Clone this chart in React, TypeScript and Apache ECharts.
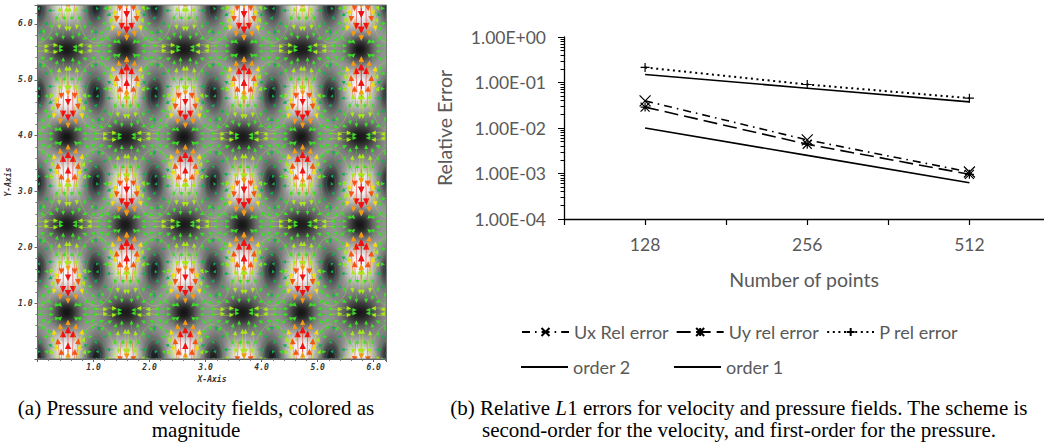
import React, { useEffect, useRef } from "react";
import * as echarts from "echarts";

// ---------- right panel data ----------
const sizes = [128, 256, 512];
const uxError = [0.0395, 0.00547, 0.00108];
const uyError = [0.0288, 0.0044, 0.00096];
const pError = [0.214, 0.0904, 0.0453];
const order2 = [0.01, 0.0025, 0.000625];
const order1 = [0.15, 0.075, 0.0375];
const minorLogTicks = [
  2e-4, 3e-4, 4e-4, 5e-4, 6e-4, 7e-4, 8e-4, 9e-4, 2e-3, 3e-3, 4e-3, 5e-3, 6e-3, 7e-3, 8e-3, 9e-3,
  2e-2, 3e-2, 4e-2, 5e-2, 6e-2, 7e-2, 8e-2, 9e-2, 0.2, 0.3, 0.4, 0.5, 0.6, 0.7, 0.8, 0.9,
];

// ---------- left panel data: one quadrant of the periodic pressure image (grey level) ----------
const pressureQuadrant = [
  [20, 60, 115, 140, 145, 140, 120, 85, 45, 25],
  [60, 85, 125, 145, 150, 140, 125, 100, 70, 55],
  [120, 130, 145, 150, 145, 135, 130, 120, 110, 100],
  [170, 170, 160, 150, 130, 120, 130, 135, 130, 130],
  [215, 205, 175, 140, 110, 100, 125, 145, 155, 160],
  [245, 228, 185, 130, 85, 70, 115, 155, 185, 200],
  [252, 235, 180, 115, 45, 35, 105, 170, 215, 235],
  [242, 222, 170, 105, 25, 25, 105, 170, 222, 242],
  [235, 215, 170, 105, 35, 45, 115, 180, 235, 252],
  [200, 185, 155, 115, 70, 85, 130, 185, 228, 245],
  [160, 155, 145, 125, 100, 110, 140, 175, 205, 215],
  [130, 130, 135, 130, 120, 130, 150, 160, 170, 170],
  [100, 110, 120, 130, 135, 145, 150, 145, 130, 120],
  [55, 70, 100, 125, 140, 150, 145, 125, 85, 60],
  [25, 45, 85, 120, 140, 145, 140, 115, 60, 20],
];

// one fundamental set of velocity arrows (offset from a dark node; v > 0 is up)
const arrowOffsetX = [0, 0, 0.09, 0.14, 0.25, 0, 0.18, 0.12, 0.21, 0, 0.28, 0.3, 1.02, 0.9, 0.98, 0.84, 1.02, 0.89, 0.75, 0.96, 0.5, 0.66, 0.82, 0.92, 0.45, 0.6, 0.75, 0.3, 0.2, 0.33, 0.4, 0.32, 0.38, 0.34, 0.5, 0.55, 0.53, 0.65, 0.72, 0.45, 0.62, 0.85, 0.14];
const arrowOffsetY = [0.2, 0.34, 0.41, 0.27, 0.37, 0.62, 0.54, 0.73, 0.64, 0.78, 0.5, 0.72, 0.7, 0.7, 0.54, 0.54, 0.36, 0.39, 0.39, 0.2, 0.05, 0.04, 0.06, 0.03, 0.16, 0.17, 0.18, 0.05, 0.12, 0.18, 0.45, 0.6, 0.72, 0.35, 0.55, 0.3, 0.72, 0.45, 0.68, 0.28, 0.3, 0.25, 0.12];
const arrowU = [0, 0, 0.01, 0.03, 0.05, 0, 0.03, 0.02, 0.05, 0, 0.07, 0.08, 0, -0.02, 0, -0.06, 0, 0.02, 0.02, 0, 0.14, 0.17, 0.17, 0.14, 0.13, 0.14, 0.13, -0.12, -0.14, -0.08, 0.1, 0.08, 0.1, 0.05, 0.03, 0, 0.01, -0.05, -0.09, 0.07, 0.05, 0.03, -0.1];
const arrowV = [0.26, 0.38, 0.38, 0.26, 0.22, 0.36, 0.31, 0.3, 0.24, 0.26, 0.17, 0.14, -0.2, -0.18, 0.1, 0.1, 0.17, 0.17, 0.1, 0.12, 0, 0.01, 0.01, 0, 0.04, 0.05, 0.06, 0, 0.03, 0.06, -0.01, 0.05, 0, 0.1, -0.04, -0.08, -0.02, -0.02, 0, 0.08, 0.09, 0.12, 0.1];

const ovalColumns = [0, 1.05, 2.09, 3.14, 4.19, 5.24, 6.28];
const ovalRows = [0, 1.57, 3.14, 4.71, 6.28];
const ringRx = [0.33, 0.18, 0.08];
const ringRy = [0.62, 0.36, 0.2];
const ringColors = ["#a6e24a", "#45b85a", "#2f7f98"];

const arrowStops: [number, string][] = [
  [0.34, "#f01212"],
  [0.29, "#f4560f"],
  [0.25, "#f59a10"],
  [0.21, "#f2dc10"],
  [0.16, "#a8e81a"],
  [0.1, "#3ddc28"],
  [0, "#12b050"],
];

const NODE_X = 0.545;
const NODE_Y = 3.99;
const PERIOD_X = 2.094;
const PERIOD_Y = 3.142;

function heatCells() {
  const cells: number[][] = [];
  for (let i = -4; i < 64; i++) {
    for (let j = -4; j < 64; j++) {
      let di = (((i + 0.5 - 5) % 20) + 20) % 20;
      if (di > 10) di = 20 - di;
      let dj = (((j + 0.5 - 38) % 30) + 30) % 30;
      if (dj > 15) dj = 30 - dj;
      cells.push([i + 4, j + 4, pressureQuadrant[Math.floor(dj)][Math.floor(di)]]);
    }
  }
  return cells;
}

function arrowItems() {
  const out: number[][] = [];
  arrowOffsetX.forEach((ox0, n) => {
    const oy0 = arrowOffsetY[n];
    const u0 = arrowU[n];
    const v0 = arrowV[n];
    const variants = [
      [ox0, oy0, u0, v0],
      [1.047 - ox0, 1.571 - oy0, -u0, -v0],
    ];
    variants.forEach(([ox, oy, u, v]) => {
      [1, -1].forEach((sx) => {
        if (sx < 0 && ox === 0) return;
        [1, -1].forEach((sy) => {
          for (let k = -1; k < 4; k++) {
            for (let m = -2; m < 3; m++) {
              const x = NODE_X + k * PERIOD_X + sx * ox;
              const y = NODE_Y + m * PERIOD_Y - sy * oy;
              if (x > -0.1 && x < 6.35 && y > -0.1 && y < 6.45) out.push([x, y, sx * u, sy * v]);
            }
          }
        });
      });
    });
  });
  return out;
}

function ringItems() {
  const out: number[][] = [];
  ovalColumns.forEach((x) => ovalRows.forEach((y) => ringRx.forEach((_, r) => out.push([x, y, r]))));
  return out;
}

const renderArrow = (_: any, api: any) => {
  const x = api.value(0);
  const y = api.value(1);
  const u = api.value(2);
  const v = api.value(3);
  const speed = Math.hypot(u, v);
  const color = (arrowStops.find((s) => speed >= s[0]) as [number, string])[1];
  const p = api.coord([x, y]);
  const q = api.coord([x - u, y - v]);
  const len = Math.hypot(p[0] - q[0], p[1] - q[1]) || 1;
  const dx = (p[0] - q[0]) / len;
  const dy = (p[1] - q[1]) / len;
  const h = 3 + 10 * speed;
  const w = h * 0.95;
  return {
    type: "group",
    children: [
      {
        type: "line",
        shape: { x1: q[0], y1: q[1], x2: p[0], y2: p[1] },
        style: { stroke: color, lineWidth: 1, opacity: 0.5 },
      },
      {
        type: "polygon",
        shape: {
          points: [
            [p[0] + dx * h * 0.6, p[1] + dy * h * 0.6],
            [p[0] - dx * h * 0.4 - dy * w * 0.5, p[1] - dy * h * 0.4 + dx * w * 0.5],
            [p[0] - dx * h * 0.4 + dy * w * 0.5, p[1] - dy * h * 0.4 - dx * w * 0.5],
          ],
        },
        style: { fill: color },
      },
    ],
  };
};

const renderRing = (_: any, api: any) => {
  const r = api.value(2);
  const c = api.coord([api.value(0), api.value(1)]);
  const s = api.size([ringRx[r], ringRy[r]]);
  return {
    type: "ellipse",
    shape: { cx: c[0], cy: c[1], rx: s[0], ry: s[1] },
    style: { fill: "none", stroke: ringColors[r], lineWidth: 0.8, opacity: 0.5 },
  };
};

const CROSS = "path://M0 0L10 10M10 0L0 10";
const STAR = "path://M0 0L10 10M10 0L0 10M5 0L5 10M0 5L10 5";
const PLUS = "path://M5 0L5 10M0 5L10 5";
const LABEL = "#595959";
const FONT = "Lato";
const xs = sizes.map((n) => Math.log2(n));
const toLine = (ys: number[]) => ys.map((y, i) => [xs[i], y]);

const lineSeries = (name: string, ys: number[], dash: any, width: number, symbol: string, size: number) => ({
  type: "line",
  name,
  xAxisIndex: 1,
  yAxisIndex: 1,
  data: toLine(ys),
  silent: true,
  symbol,
  symbolSize: size,
  itemStyle: { color: "none", borderColor: "#000", borderWidth: 1.2 },
  lineStyle: { color: "#000", width, type: dash },
});

const hershey = {
  fontFamily: "DejaVu Sans Mono",
  fontStyle: "italic",
  fontWeight: "bold",
  fontSize: 8,
  color: "#333",
};

const legendText = { fontFamily: FONT, fontSize: 18, color: LABEL };
const CAPTION_FONT = "Liberation Serif";
const solidLegend = (name: string, left: number) => ({
  left,
  top: 353,
  itemWidth: 47,
  itemHeight: 2,
  selectedMode: false,
  textStyle: legendText,
  itemStyle: { color: "#000", borderWidth: 0 },
  lineStyle: { width: 0, opacity: 0 },
  data: [{ name, icon: "rect" }],
});

export default function App() {
  const heatRef = useRef<HTMLDivElement>(null);
  const arrowRef = useRef<HTMLDivElement>(null);
  const mainRef = useRef<HTMLDivElement>(null);

  useEffect(() => {
    const heat = echarts.init(heatRef.current!, undefined, { renderer: "svg" });
    const arrows = echarts.init(arrowRef.current!, undefined, { renderer: "svg" });
    const main = echarts.init(mainRef.current!, undefined, { renderer: "svg" });

    const cats = Array.from({ length: 68 }, (_, i) => String(i));
    heat.setOption({
      animation: false,
      grid: { left: 14.04, top: 15, width: 398.8, height: 397.3 },
      xAxis: { type: "category", data: cats, show: false },
      yAxis: { type: "category", data: cats, show: false },
      visualMap: { show: false, min: 0, max: 255, dimension: 2, inRange: { color: ["#000000", "#ffffff"] } },
      series: [{ type: "heatmap", data: heatCells(), silent: true, progressive: 0, itemStyle: { borderWidth: 0 } }],
    });

    arrows.setOption({
      animation: false,
      grid: { left: 37.5, top: 5, width: 349, height: 354 },
      xAxis: { type: "value", min: 0, max: 6.23, show: false },
      yAxis: { type: "value", min: 0, max: 6.34, show: false },
      series: [
        { type: "custom", data: ringItems(), renderItem: renderRing, silent: true, clip: true, encode: { x: 0, y: 1 } },
        { type: "custom", data: arrowItems(), renderItem: renderArrow, silent: true, clip: true, encode: { x: 0, y: 1 } },
      ],
    });

    main.setOption({
      animation: false,
      backgroundColor: "transparent",
      grid: [
        { left: 37.5, top: 5, width: 349, height: 354, show: true, borderColor: "#777", borderWidth: 1, backgroundColor: "transparent" },
        { left: 564, top: 37, width: 480, height: 182 },
      ],
      xAxis: [
        {
          gridIndex: 0,
          type: "value",
          min: 0,
          max: 6.23,
          interval: 1,
          name: "X-Axis",
          nameLocation: "middle",
          nameGap: 12,
          nameTextStyle: hershey,
          axisLine: { lineStyle: { color: "#666" } },
          axisTick: { length: 3, lineStyle: { color: "#666" } },
          minorTick: { show: true, splitNumber: 5, length: 2, lineStyle: { color: "#777" } },
          splitLine: { show: false },
          axisLabel: { ...hershey, margin: 4, showMinLabel: false, showMaxLabel: false, formatter: (v: number) => v.toFixed(1) },
        },
        {
          gridIndex: 1,
          type: "value",
          min: 6.5,
          max: 9.46,
          interval: 0.5,
          name: "Number of points",
          nameLocation: "middle",
          nameGap: 50,
          nameTextStyle: { fontFamily: FONT, fontSize: 19.5, color: LABEL },
          axisLine: { onZero: false, lineStyle: { color: "#000", width: 1.3 } },
          axisTick: { length: 6, lineStyle: { color: "#000", width: 1.2 } },
          splitLine: { show: false },
          axisLabel: {
            fontFamily: FONT,
            fontSize: 17.5,
            color: LABEL,
            margin: 16,
            showMaxLabel: false,
            formatter: (v: number) => (Number.isInteger(v) ? String(Math.pow(2, v)) : ""),
          },
        },
      ],
      yAxis: [
        {
          gridIndex: 0,
          type: "value",
          min: 0,
          max: 6.34,
          interval: 1,
          name: "Y-Axis",
          nameLocation: "middle",
          nameGap: 25,
          nameTextStyle: hershey,
          axisLine: { lineStyle: { color: "#666" } },
          axisTick: { length: 3, lineStyle: { color: "#666" } },
          minorTick: { show: true, splitNumber: 5, length: 2, lineStyle: { color: "#777" } },
          splitLine: { show: false },
          axisLabel: { ...hershey, margin: 5, showMinLabel: false, showMaxLabel: false, formatter: (v: number) => v.toFixed(1) },
        },
        {
          gridIndex: 1,
          type: "log",
          logBase: 10,
          min: 1e-4,
          max: 1,
          name: "Relative Error",
          nameLocation: "middle",
          nameGap: 110,
          nameTextStyle: { fontFamily: FONT, fontSize: 19.5, color: LABEL },
          axisLine: { onZero: false, lineStyle: { color: "#000", width: 1.3 } },
          axisTick: { length: 6, lineStyle: { color: "#000", width: 1 } },
          splitLine: { show: false },
          axisLabel: {
            fontFamily: FONT,
            fontSize: 17.5,
            color: LABEL,
            margin: 18,
            formatter: (v: number) => {
              const e = Math.round(Math.log10(v));
              const a = Math.abs(e);
              return `1.00E${e < 0 ? "-" : "+"}${a < 10 ? "0" : ""}${a}`;
            },
          },
        },
        {
          gridIndex: 1,
          type: "log",
          logBase: 10,
          min: 1e-4,
          max: 1,
          position: "left",
          axisLine: { show: false },
          axisLabel: { show: false },
          splitLine: { show: false },
          axisTick: { length: 3.5, customValues: minorLogTicks, lineStyle: { color: "#000", width: 1 } },
        },
      ],
      legend: [
        {
          left: 516,
          top: 318,
          itemWidth: 47,
          itemHeight: 10,
          itemGap: 7,
          selectedMode: false,
          textStyle: legendText,
          data: ["Ux Rel error", "Uy rel error", "P rel error"],
        },
        solidLegend("order 2", 516),
        solidLegend("order 1", 669),
      ],
      series: [
        lineSeries("Ux Rel error", uxError, [8, 5, 1.6, 5], 1.6, CROSS, 11),
        lineSeries("Uy rel error", uyError, [14, 6], 1.6, STAR, 9),
        lineSeries("P rel error", pError, [2, 3.6], 2, PLUS, 9),
        lineSeries("order 2", order2, "solid", 1.6, "none", 0),
        lineSeries("order 1", order1, "solid", 1.6, "none", 0),
      ],
      graphic: [
        {
          type: "text",
          x: 196,
          y: 419,
          style: {
            text: "(a) Pressure and velocity fields, colored as\nmagnitude",
            fontFamily: CAPTION_FONT,
            fontSize: 21,
            lineHeight: 22,
            fill: "#000",
            align: "center",
            verticalAlign: "middle",
          },
        },
        {
          type: "text",
          x: 739,
          y: 419,
          style: {
            text: "(b) Relative {i|L}1 errors for velocity and pressure fields. The scheme is\nsecond-order for the velocity, and first-order for the pressure.",
            rich: { i: { fontStyle: "italic", fontFamily: CAPTION_FONT, fontSize: 21 } },
            fontFamily: CAPTION_FONT,
            fontSize: 21,
            lineHeight: 22,
            fill: "#000",
            align: "center",
            verticalAlign: "middle",
          },
        },
      ],
    });

    return () => {
      heat.dispose();
      arrows.dispose();
      main.dispose();
    };
  }, []);

  const clip: React.CSSProperties = { position: "absolute", left: 38, top: 5, width: 349, height: 354, overflow: "hidden" };
  return (
    <div style={{ position: "fixed", left: 0, top: 0, width: 1044, height: 444, background: "#fff", overflow: "hidden" }}>
      <div style={clip}>
        <div ref={heatRef} style={{ position: "absolute", left: -38, top: -35, width: 500, height: 450, filter: "blur(2.6px)" }} />
      </div>
      <div style={clip}>
        <div ref={arrowRef} style={{ position: "absolute", left: -38, top: -5, width: 1044, height: 444, filter: "blur(0.5px)" }} />
      </div>
      <div ref={mainRef} style={{ position: "absolute", left: 0, top: 0, width: 1044, height: 444 }} />
    </div>
  );
}
